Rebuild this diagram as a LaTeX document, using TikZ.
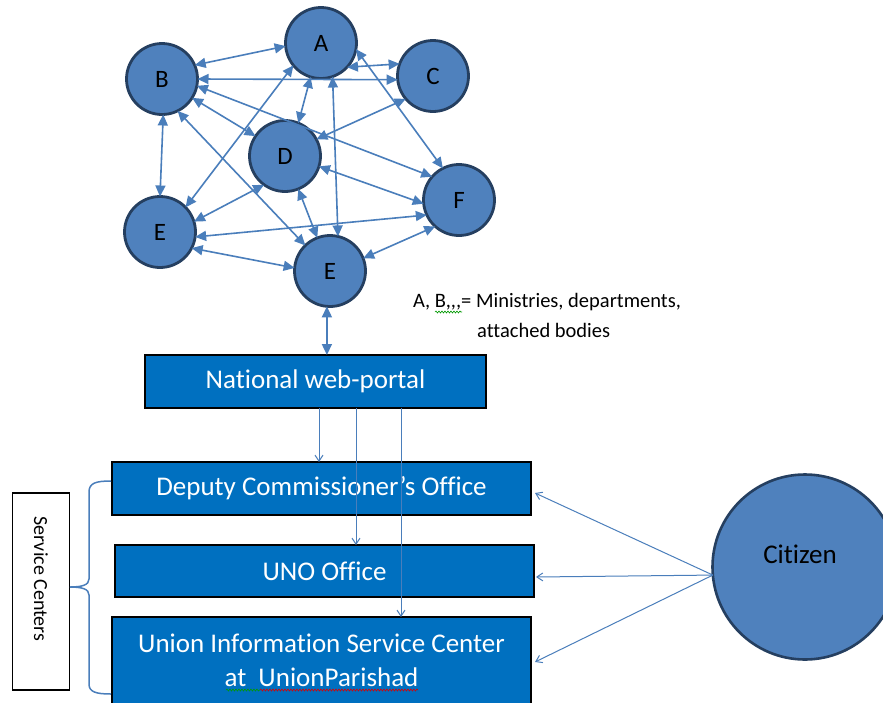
\documentclass[tikz,border=0pt]{standalone}
\usepackage{fontspec}
\setmainfont{Carlito}[Ligatures={NoCommon,NoContextual}]
\usetikzlibrary{arrows.meta,decorations.pathmorphing,calc}
\definecolor{nodefill}{HTML}{4F81BD}
\definecolor{nodeline}{HTML}{253F60}
\definecolor{boxfill}{HTML}{0070C0}
\definecolor{linkblue}{HTML}{4A7EBB}
\begin{document}
\begin{tikzpicture}[x=1pt,y=-1pt,
  agency/.style={circle,draw=nodeline,fill=nodefill,line width=2.8pt,minimum size=71pt,
    inner sep=0pt,outer sep=0pt,font=\fontsize{25}{25}\selectfont},
  office/.style={rectangle,draw=black,line width=1.3pt,fill=boxfill,text=white,
    font=\fontsize{27}{28}\selectfont,inner sep=0pt,outer sep=0pt},
  link/.style={linkblue,line width=1.6pt,
    {Triangle[length=11pt,width=10pt]}-{Triangle[length=11pt,width=10pt]}},
  feed/.style={linkblue,line width=1pt,-{Straight Barb[length=6pt,width=8pt]}},
  squiggle/.style={decorate,decoration={snake,amplitude=1pt,segment length=3pt},line width=0.6pt}
]
\fill[white] (0,0) rectangle (883,702);
\useasboundingbox (0,0) rectangle (883,702);

% ministries / departments
\node[agency] (A)  at (321,43)  {A};
\node[agency] (B)  at (162,79)  {B};
\node[agency] (C)  at (433,76)  {C};
\node[agency] (D)  at (285,156) {D};
\node[agency] (E1) at (160,232) {E};
\node[agency] (F)  at (459,200) {F};
\node[agency] (E2) at (330,271) {E};

% links between them
\draw[link] (B.23)  -- (A.185);
\draw[link] (B.0)   -- (C.186);
\draw[link] (A.-43) -- (C.160);
\draw[link] (A.-10) -- (F.117);
\draw[link] (A.253) -- (D.68);
\draw[link] (A.289) -- (E2.77);
\draw[link] (A.219) -- (E1.44);
\draw[link] (B.272) -- (E1.90);
\draw[link] (B.296) -- (E2.134);
\draw[link] (B.-32) -- (D.146);
\draw[link] (B.-11) -- (F.139);
\draw[link] (C.220) -- (D.28);
\draw[link] (D.234) -- (E1.17);
\draw[link] (D.292) -- (E2.111);
\draw[link] (D.-17) -- (F.186);
\draw[link] (E1.-27) -- (E2.175);
\draw[link] (E1.-8) -- (F.205);
\draw[link] (E2.21) -- (F.228);

% legend
\node[anchor=base west,font=\fontsize{20.5}{24}\selectfont,inner sep=0pt] (legendA) at (413,307)
  {A, B{,}{,}{,}= Ministries, departments,};
\node[anchor=base west,font=\fontsize{20.5}{24}\selectfont,inner sep=0pt] (legendB) at (477,337)
  {attached bodies};
\draw[green!60!black,squiggle] (435,312) -- (462,312);

% portal and service centres
\node[office,minimum width=341pt,minimum height=53pt] (portal) at (315.5,381.5) {National web-portal};
\node[office,minimum width=419pt,minimum height=53pt] (dc) at (321.5,488.5) {Deputy Commissioner’s Office};
\node[office,minimum width=419pt,minimum height=52pt] (uno) at (324.5,571) {UNO Office};
\node[office,minimum width=419pt,minimum height=100pt,anchor=north] (union) at (321.5,617) {};
\node[text=white,font=\fontsize{27}{34}\selectfont,align=center,inner sep=0pt] (uniontext) at (321.5,660)
  {Union Information Service Center\\at\ \ UnionParishad};
\draw[green!60!black,squiggle] (226,690) -- (260,690);
\draw[red!85!black,squiggle] (260,690) -- (418,690);

\draw[link] (E2.265) -- (E2.265 |- portal.north);
\draw[feed] ([xshift=3.5pt]portal.south) -- ([xshift=3.5pt]portal.south |- dc.north);
\draw[feed] ([xshift=40.5pt]portal.south) -- ([xshift=40.5pt]portal.south |- uno.north);
\draw[feed] ([xshift=85.5pt]portal.south) -- ([xshift=85.5pt]portal.south |- union.north);

% service centres bracket
\node[draw=black,line width=1.3pt,fill=white,minimum width=57pt,minimum height=197pt,inner sep=0pt]
  (sc) at (41,591.5) {};
\node[rotate=-90,font=\fontsize{20}{20}\selectfont,inner sep=0pt] (sclabel) at (41,579) {Service Centers};
\draw[linkblue,line width=1.5pt]
  (111,481) .. controls (96,481) and (89,483) .. (89,492) -- (89,579)
  .. controls (89,585) and (82,587) .. (70,587)
  .. controls (82,587) and (89,589) .. (89,595) -- (89,684)
  .. controls (89,692) and (96,694) .. (111,694);

% citizen
\node[circle,draw=nodeline,fill=nodefill,line width=2.6pt,minimum size=185pt,inner sep=0pt,outer sep=0pt]
  (citizen) at (805,567) {};
\node[font=\fontsize{27}{27}\selectfont,inner sep=0pt] (citizenlabel) at (800,554) {Citizen};
\coordinate (cit) at (citizen.185);
\draw[feed] (cit) -- ($(dc.east)+(4,4.5)$);
\draw[feed] (cit) -- ($(uno.east)+(2,6)$);
\draw[feed] (cit) -- ($(union.north east)+(4,45)$);
\end{tikzpicture}
\end{document}
